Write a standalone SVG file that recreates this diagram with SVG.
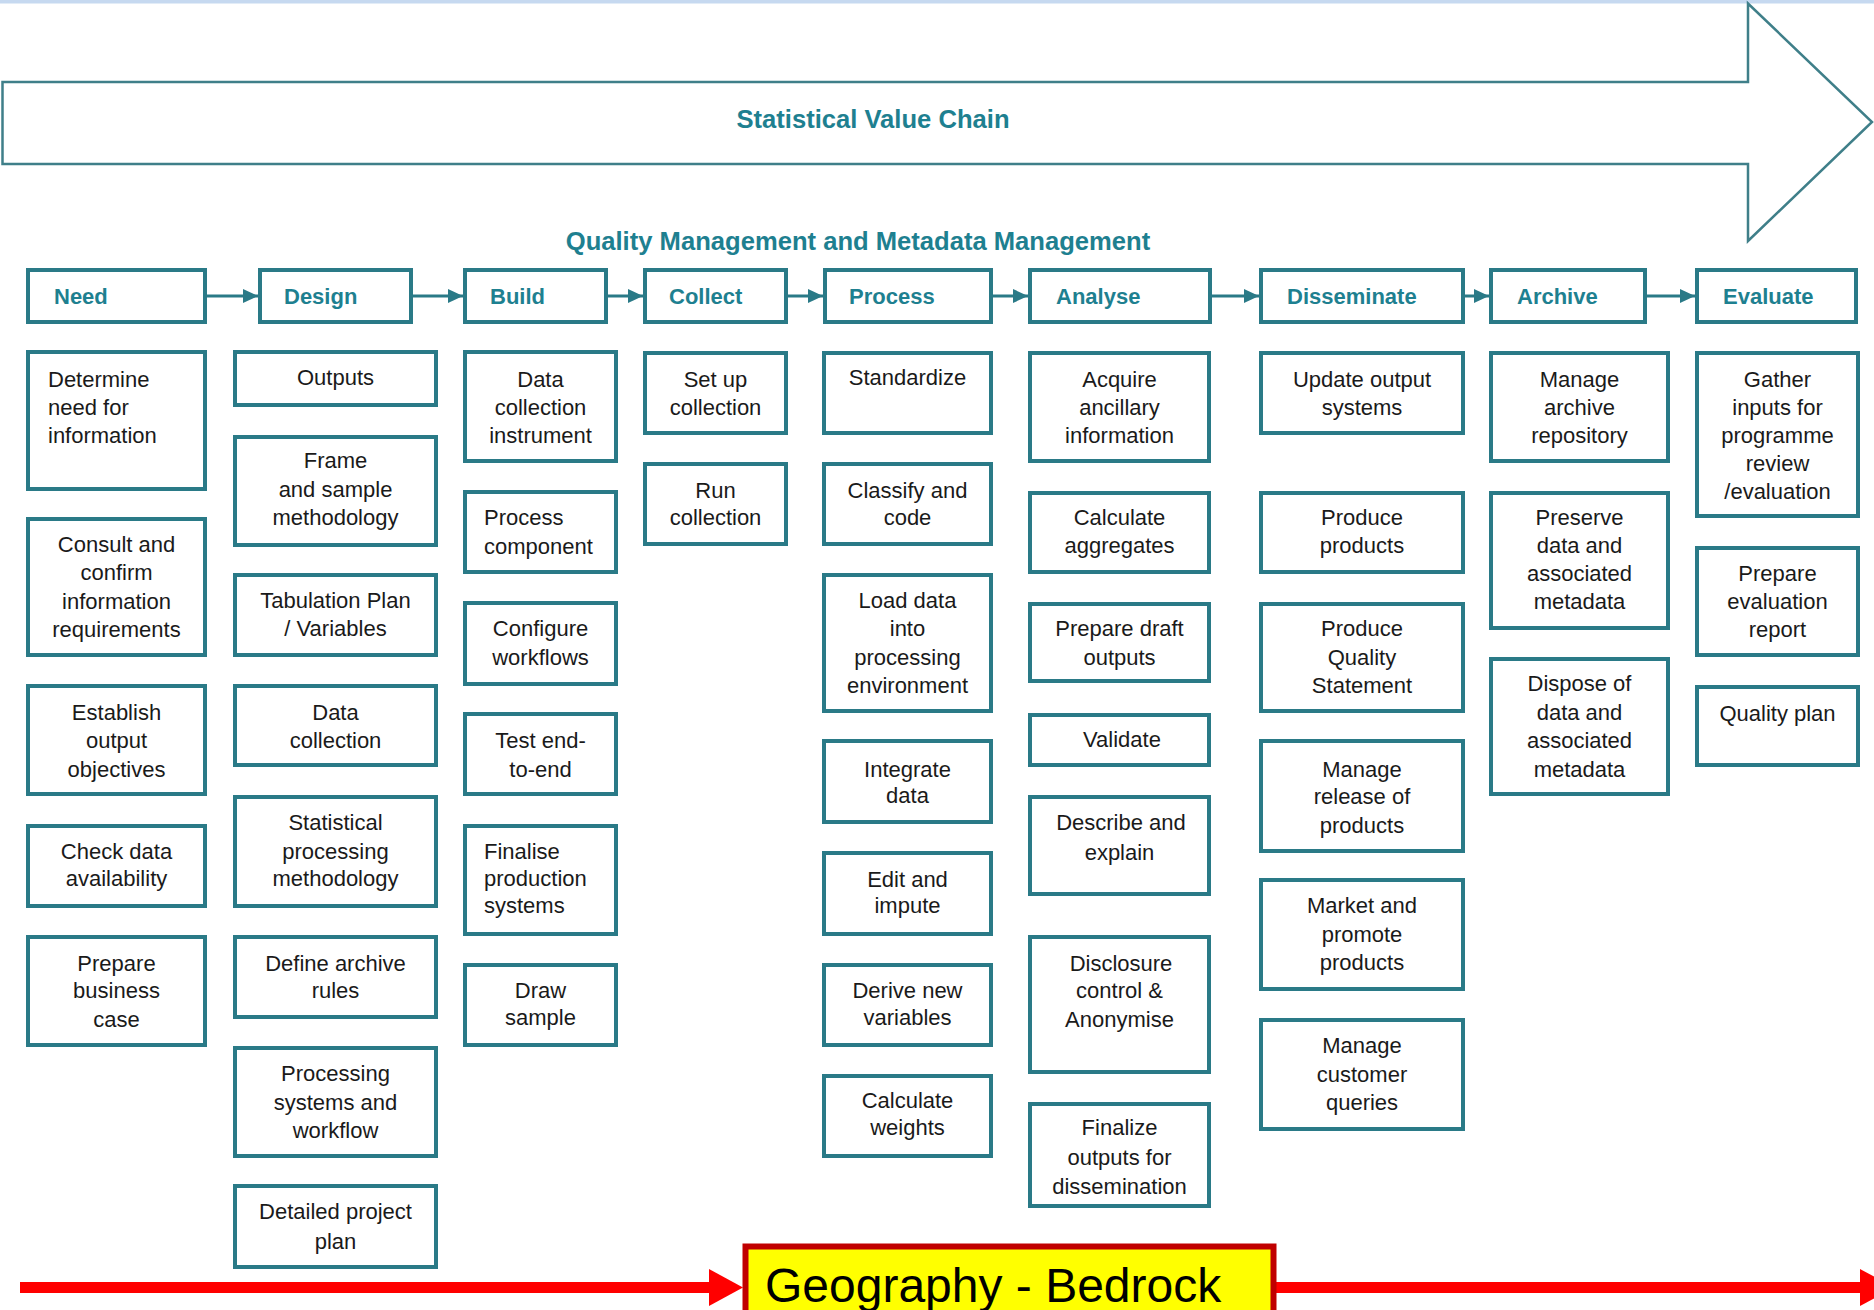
<svg xmlns="http://www.w3.org/2000/svg" width="1874" height="1310" viewBox="0 0 1874 1310">
<defs>
<style>
.bx{fill:#fff;stroke:#2a7a87;stroke-width:4}
.hd{font-family:"Liberation Sans",Arial,sans-serif;font-size:22px;font-weight:bold;fill:#1e8090}
.t{font-family:"Liberation Sans",Arial,sans-serif;font-size:22px;fill:#1a1a1a;text-anchor:middle}
.tl{font-family:"Liberation Sans",Arial,sans-serif;font-size:22px;fill:#1a1a1a}
.ttl{font-family:"Liberation Sans",Arial,sans-serif;font-size:25.6px;font-weight:bold;fill:#1e8090;text-anchor:middle}
.ha{stroke:#2a7a87;stroke-width:3;fill:none;marker-end:url(#ah)}
</style>
<marker id="ah" markerUnits="userSpaceOnUse" markerWidth="16" markerHeight="14" refX="15" refY="7" orient="auto">
<path d="M0,0 L15,7 L0,14 z" fill="#2a7a87"/>
</marker>
</defs>
<rect x="0" y="0" width="1874" height="1310" fill="#fff"/>
<rect x="0" y="0" width="1874" height="3.5" fill="#c6d9f0"/>

<g id="value-chain">
<polygon points="2.5,82 1748,82 1748,3.5 1872,122 1748,241 1748,164 2.5,164" fill="#fff" stroke="#3f7f89" stroke-width="2.5"/>
<text class="ttl" x="873" y="128">Statistical Value Chain</text>
</g>
<text id="qm-title" class="ttl" x="858" y="250">Quality Management and Metadata Management</text>

<g id="connectors">
<line class="ha" x1="207" y1="296" x2="258" y2="296"/>
<line class="ha" x1="413" y1="296" x2="463" y2="296"/>
<line class="ha" x1="608" y1="296" x2="643" y2="296"/>
<line class="ha" x1="788" y1="296" x2="823" y2="296"/>
<line class="ha" x1="993" y1="296" x2="1028" y2="296"/>
<line class="ha" x1="1212" y1="296" x2="1259" y2="296"/>
<line class="ha" x1="1465" y1="296" x2="1489" y2="296"/>
<line class="ha" x1="1647" y1="296" x2="1695" y2="296"/>
<rect x="20" y="1282" width="690" height="11" fill="#ff0000"/>
<polygon points="709,1269 743,1287.5 709,1306" fill="#ff0000"/>
<rect x="1276" y="1282" width="585" height="11" fill="#ff0000"/>
<polygon points="1860,1269 1894,1287.5 1860,1306" fill="#ff0000"/>
</g>

<g id="h-need"><rect class="bx" x="28" y="270" width="177" height="52"/><text class="hd" x="54" y="304">Need</text></g>
<g id="h-design"><rect class="bx" x="260" y="270" width="151" height="52"/><text class="hd" x="284" y="304">Design</text></g>
<g id="h-build"><rect class="bx" x="465" y="270" width="141" height="52"/><text class="hd" x="490" y="304">Build</text></g>
<g id="h-collect"><rect class="bx" x="645" y="270" width="141" height="52"/><text class="hd" x="669" y="304">Collect</text></g>
<g id="h-process"><rect class="bx" x="825" y="270" width="166" height="52"/><text class="hd" x="849" y="304">Process</text></g>
<g id="h-analyse"><rect class="bx" x="1030" y="270" width="180" height="52"/><text class="hd" x="1056" y="304">Analyse</text></g>
<g id="h-disseminate"><rect class="bx" x="1261" y="270" width="202" height="52"/><text class="hd" x="1287" y="304">Disseminate</text></g>
<g id="h-archive"><rect class="bx" x="1491" y="270" width="154" height="52"/><text class="hd" x="1517" y="304">Archive</text></g>
<g id="h-evaluate"><rect class="bx" x="1697" y="270" width="159" height="52"/><text class="hd" x="1723" y="304">Evaluate</text></g>

<!-- Need -->
<g id="need-1"><rect class="bx" x="28" y="352" width="177" height="137"/><text class="tl"><tspan x="48" y="386.5">Determine</tspan><tspan x="48" y="414.5">need for</tspan><tspan x="48" y="442.5">information</tspan></text></g>
<g id="need-2"><rect class="bx" x="28" y="519" width="177" height="136"/><text class="t"><tspan x="116.5" y="551.5">Consult and</tspan><tspan x="116.5" y="580">confirm</tspan><tspan x="116.5" y="608.5">information</tspan><tspan x="116.5" y="637">requirements</tspan></text></g>
<g id="need-3"><rect class="bx" x="28" y="686" width="177" height="108"/><text class="t"><tspan x="116.5" y="719.5">Establish</tspan><tspan x="116.5" y="747.5">output</tspan><tspan x="116.5" y="776.5">objectives</tspan></text></g>
<g id="need-4"><rect class="bx" x="28" y="826" width="177" height="80"/><text class="t"><tspan x="116.5" y="858.5">Check data</tspan><tspan x="116.5" y="885.5">availability</tspan></text></g>
<g id="need-5"><rect class="bx" x="28" y="937" width="177" height="108"/><text class="t"><tspan x="116.5" y="970.5">Prepare</tspan><tspan x="116.5" y="997.5">business</tspan><tspan x="116.5" y="1026.5">case</tspan></text></g>

<!-- Design -->
<g id="design-1"><rect class="bx" x="235" y="352" width="201" height="53"/><text class="t" x="335.5" y="384.5">Outputs</text></g>
<g id="design-2"><rect class="bx" x="235" y="437" width="201" height="108"/><text class="t"><tspan x="335.5" y="467.5">Frame</tspan><tspan x="335.5" y="496.5">and sample</tspan><tspan x="335.5" y="524.5">methodology</tspan></text></g>
<g id="design-3"><rect class="bx" x="235" y="575" width="201" height="80"/><text class="t"><tspan x="335.5" y="607.5">Tabulation Plan</tspan><tspan x="335.5" y="635.5">/ Variables</tspan></text></g>
<g id="design-4"><rect class="bx" x="235" y="686" width="201" height="79"/><text class="t"><tspan x="335.5" y="719.5">Data</tspan><tspan x="335.5" y="747.5">collection</tspan></text></g>
<g id="design-5"><rect class="bx" x="235" y="797" width="201" height="109"/><text class="t"><tspan x="335.5" y="829.5">Statistical</tspan><tspan x="335.5" y="858.5">processing</tspan><tspan x="335.5" y="885.5">methodology</tspan></text></g>
<g id="design-6"><rect class="bx" x="235" y="937" width="201" height="80"/><text class="t"><tspan x="335.5" y="970.5">Define archive</tspan><tspan x="335.5" y="997.5">rules</tspan></text></g>
<g id="design-7"><rect class="bx" x="235" y="1048" width="201" height="108"/><text class="t"><tspan x="335.5" y="1080.5">Processing</tspan><tspan x="335.5" y="1109.5">systems and</tspan><tspan x="335.5" y="1137.5">workflow</tspan></text></g>
<g id="design-8"><rect class="bx" x="235" y="1186" width="201" height="81"/><text class="t"><tspan x="335.5" y="1218.5">Detailed project</tspan><tspan x="335.5" y="1248.5">plan</tspan></text></g>

<!-- Build -->
<g id="build-1"><rect class="bx" x="465" y="352" width="151" height="109"/><text class="t"><tspan x="540.5" y="386.5">Data</tspan><tspan x="540.5" y="414.5">collection</tspan><tspan x="540.5" y="442.5">instrument</tspan></text></g>
<g id="build-2"><rect class="bx" x="465" y="492" width="151" height="80"/><text class="tl"><tspan x="484" y="524.5">Process</tspan><tspan x="484" y="553.5">component</tspan></text></g>
<g id="build-3"><rect class="bx" x="465" y="603" width="151" height="81"/><text class="t"><tspan x="540.5" y="635.5">Configure</tspan><tspan x="540.5" y="664.5">workflows</tspan></text></g>
<g id="build-4"><rect class="bx" x="465" y="714" width="151" height="80"/><text class="t"><tspan x="540.5" y="747.5">Test end-</tspan><tspan x="540.5" y="776.5">to-end</tspan></text></g>
<g id="build-5"><rect class="bx" x="465" y="826" width="151" height="108"/><text class="tl"><tspan x="484" y="858.5">Finalise</tspan><tspan x="484" y="885.5">production</tspan><tspan x="484" y="912.5">systems</tspan></text></g>
<g id="build-6"><rect class="bx" x="465" y="965" width="151" height="80"/><text class="t"><tspan x="540.5" y="997.5">Draw</tspan><tspan x="540.5" y="1024.5">sample</tspan></text></g>

<!-- Collect -->
<g id="collect-1"><rect class="bx" x="645" y="353" width="141" height="80"/><text class="t"><tspan x="715.5" y="386.5">Set up</tspan><tspan x="715.5" y="414.5">collection</tspan></text></g>
<g id="collect-2"><rect class="bx" x="645" y="464" width="141" height="80"/><text class="t"><tspan x="715.5" y="497.5">Run</tspan><tspan x="715.5" y="524.5">collection</tspan></text></g>

<!-- Process -->
<g id="process-1"><rect class="bx" x="824" y="353" width="167" height="80"/><text class="t" x="907.5" y="384.5">Standardize</text></g>
<g id="process-2"><rect class="bx" x="824" y="464" width="167" height="80"/><text class="t"><tspan x="907.5" y="497.5">Classify and</tspan><tspan x="907.5" y="524.5">code</tspan></text></g>
<g id="process-3"><rect class="bx" x="824" y="575" width="167" height="136"/><text class="t"><tspan x="907.5" y="607.5">Load data</tspan><tspan x="907.5" y="635.5">into</tspan><tspan x="907.5" y="664.5">processing</tspan><tspan x="907.5" y="692.5">environment</tspan></text></g>
<g id="process-4"><rect class="bx" x="824" y="741" width="167" height="81"/><text class="t"><tspan x="907.5" y="776.5">Integrate</tspan><tspan x="907.5" y="802.5">data</tspan></text></g>
<g id="process-5"><rect class="bx" x="824" y="853" width="167" height="81"/><text class="t"><tspan x="907.5" y="886.5">Edit and</tspan><tspan x="907.5" y="912.5">impute</tspan></text></g>
<g id="process-6"><rect class="bx" x="824" y="965" width="167" height="80"/><text class="t"><tspan x="907.5" y="997.5">Derive new</tspan><tspan x="907.5" y="1024.5">variables</tspan></text></g>
<g id="process-7"><rect class="bx" x="824" y="1076" width="167" height="80"/><text class="t"><tspan x="907.5" y="1107.5">Calculate</tspan><tspan x="907.5" y="1134.5">weights</tspan></text></g>

<!-- Analyse -->
<g id="analyse-1"><rect class="bx" x="1030" y="353" width="179" height="108"/><text class="t"><tspan x="1119.5" y="386.5">Acquire</tspan><tspan x="1119.5" y="414.5">ancillary</tspan><tspan x="1119.5" y="442.5">information</tspan></text></g>
<g id="analyse-2"><rect class="bx" x="1030" y="493" width="179" height="79"/><text class="t"><tspan x="1119.5" y="524.5">Calculate</tspan><tspan x="1119.5" y="552.5">aggregates</tspan></text></g>
<g id="analyse-3"><rect class="bx" x="1030" y="604" width="179" height="77"/><text class="t"><tspan x="1119.5" y="635.5">Prepare draft</tspan><tspan x="1119.5" y="664.5">outputs</tspan></text></g>
<g id="analyse-4"><rect class="bx" x="1030" y="715" width="179" height="50"/><text class="t" x="1122" y="746.5">Validate</text></g>
<g id="analyse-5"><rect class="bx" x="1030" y="797" width="179" height="97"/><text class="t"><tspan x="1121" y="829.5">Describe and</tspan><tspan x="1119.5" y="859.5">explain</tspan></text></g>
<g id="analyse-6"><rect class="bx" x="1030" y="937" width="179" height="135"/><text class="t"><tspan x="1121" y="970.5">Disclosure</tspan><tspan x="1119.5" y="997.5">control &amp;</tspan><tspan x="1119.5" y="1026.5">Anonymise</tspan></text></g>
<g id="analyse-7"><rect class="bx" x="1030" y="1104" width="179" height="102"/><text class="t"><tspan x="1119.5" y="1134.5">Finalize</tspan><tspan x="1119.5" y="1164.5">outputs for</tspan><tspan x="1119.5" y="1193.5">dissemination</tspan></text></g>

<!-- Disseminate -->
<g id="diss-1"><rect class="bx" x="1261" y="353" width="202" height="80"/><text class="t"><tspan x="1362" y="386.5">Update output</tspan><tspan x="1362" y="414.5">systems</tspan></text></g>
<g id="diss-2"><rect class="bx" x="1261" y="493" width="202" height="79"/><text class="t"><tspan x="1362" y="524.5">Produce</tspan><tspan x="1362" y="552.5">products</tspan></text></g>
<g id="diss-3"><rect class="bx" x="1261" y="604" width="202" height="107"/><text class="t"><tspan x="1362" y="635.5">Produce</tspan><tspan x="1362" y="664.5">Quality</tspan><tspan x="1362" y="692.5">Statement</tspan></text></g>
<g id="diss-4"><rect class="bx" x="1261" y="741" width="202" height="110"/><text class="t"><tspan x="1362" y="776.5">Manage</tspan><tspan x="1362" y="803.5">release of</tspan><tspan x="1362" y="832.5">products</tspan></text></g>
<g id="diss-5"><rect class="bx" x="1261" y="880" width="202" height="109"/><text class="t"><tspan x="1362" y="913">Market and</tspan><tspan x="1362" y="942">promote</tspan><tspan x="1362" y="970">products</tspan></text></g>
<g id="diss-6"><rect class="bx" x="1261" y="1020" width="202" height="109"/><text class="t"><tspan x="1362" y="1052.5">Manage</tspan><tspan x="1362" y="1081.5">customer</tspan><tspan x="1362" y="1109.5">queries</tspan></text></g>

<!-- Archive -->
<g id="archive-1"><rect class="bx" x="1491" y="353" width="177" height="108"/><text class="t"><tspan x="1579.5" y="386.5">Manage</tspan><tspan x="1579.5" y="414.5">archive</tspan><tspan x="1579.5" y="442.5">repository</tspan></text></g>
<g id="archive-2"><rect class="bx" x="1491" y="493" width="177" height="135"/><text class="t"><tspan x="1579.5" y="524.5">Preserve</tspan><tspan x="1579.5" y="552.5">data and</tspan><tspan x="1579.5" y="580.5">associated</tspan><tspan x="1579.5" y="608.5">metadata</tspan></text></g>
<g id="archive-3"><rect class="bx" x="1491" y="659" width="177" height="135"/><text class="t"><tspan x="1579.5" y="690.5">Dispose of</tspan><tspan x="1579.5" y="719.5">data and</tspan><tspan x="1579.5" y="747.5">associated</tspan><tspan x="1579.5" y="776.5">metadata</tspan></text></g>

<!-- Evaluate -->
<g id="eval-1"><rect class="bx" x="1697" y="353" width="161" height="163"/><text class="t"><tspan x="1777.5" y="386.5">Gather</tspan><tspan x="1777.5" y="414.5">inputs for</tspan><tspan x="1777.5" y="442.5">programme</tspan><tspan x="1777.5" y="470.5">review</tspan><tspan x="1777.5" y="498.5">/evaluation</tspan></text></g>
<g id="eval-2"><rect class="bx" x="1697" y="548" width="161" height="107"/><text class="t"><tspan x="1777.5" y="580.5">Prepare</tspan><tspan x="1777.5" y="608.5">evaluation</tspan><tspan x="1777.5" y="636.5">report</tspan></text></g>
<g id="eval-3"><rect class="bx" x="1697" y="687" width="161" height="78"/><text class="t" x="1777.5" y="720.5">Quality plan</text></g>

<g id="geography">
<rect x="745.5" y="1246.5" width="528" height="100" fill="#ffff00" stroke="#c00000" stroke-width="6"/>
<text x="765" y="1302" font-family="'Liberation Sans',Arial,sans-serif" font-size="48" fill="#000">Geography - Bedrock</text>
</g>
</svg>
